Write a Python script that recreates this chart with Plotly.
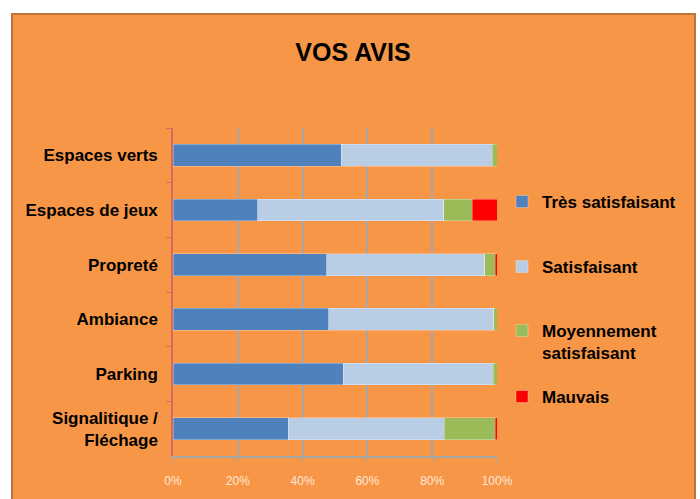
import plotly.graph_objects as go

categories = ["Espaces verts", "Espaces de jeux", "Propreté", "Ambiance", "Parking", "Signalitique /<br>Fléchage"]
tres_satisfaisant = [52.0, 26.1, 47.4, 48.0, 52.6, 35.6]
satisfaisant = [46.5, 57.4, 48.8, 51.0, 46.2, 48.1]
moyennement = [1.5, 8.9, 3.3, 1.0, 1.2, 15.7]
mauvais = [0.0, 7.6, 0.5, 0.0, 0.0, 0.6]
series_names = ["Très satisfaisant", "Satisfaisant", "Moyennement<br>satisfaisant", "Mauvais"]
tick_vals = [0, 20, 40, 60, 80, 100]
tick_text = ["0%", "20%", "40%", "60%", "80%", "100%"]

colors = ["#4F81BD", "#B9CDE5", "#9BBB59", "#FF0000"]
FONT = "Liberation Sans, Arial, sans-serif"

W, H = 700, 499
L, R, T, B = 173, 203, 128, 43
pw, ph = W - L - R, H - T - B

def px_x(px):
    return (px - L) / pw

def px_y(py):
    return (H - B - py) / ph

legend_ids = ["legend", "legend2", "legend3", "legend4"]
legend_tops = [184, 249, 313, 379]

fig = go.Figure()
for name, vals, c, lid in zip(series_names, [tres_satisfaisant, satisfaisant, moyennement, mauvais], colors, legend_ids):
    fig.add_trace(go.Bar(
        y=categories, x=vals, name=name, orientation="h",
        marker=dict(color=c, line=dict(color="rgba(255,255,255,0.6)", width=0.5)),
        legend=lid, showlegend=True,
    ))

legend_style = dict(xanchor="left", yanchor="top",
                    font=dict(family=FONT, size=17, color="black", weight="bold"),
                    bgcolor="rgba(0,0,0,0)", valign="top", itemwidth=30)
layout_legends = {}
for lid, top in zip(legend_ids, legend_tops):
    layout_legends[lid] = dict(x=px_x(502), y=px_y(top), **legend_style)

fig.update_layout(
    width=W, height=H,
    showlegend=True,
    barmode="stack", bargap=0.6,
    paper_bgcolor="white", plot_bgcolor="white",
    margin=dict(l=L, r=R, t=T, b=B, autoexpand=False),
    title=dict(text="<b>VOS AVIS</b>", x=px_x(353), xref="paper", xanchor="center",
               y=(H - 52) / H, yanchor="middle",
               font=dict(family=FONT, size=25, color="black")),
    xaxis=dict(range=[0, 100], tickvals=tick_vals, ticktext=tick_text,
               showgrid=True, gridcolor="#A6A6A6", gridwidth=1.5,
               showline=True, linecolor="#A6A6A6", linewidth=1.5,
               ticks="outside", ticklen=5, tickcolor="#A6A6A6",
               ticklabelstandoff=8,
               tickfont=dict(family=FONT, size=12, color="#FDE9D9"),
               zeroline=False, fixedrange=True),
    yaxis=dict(autorange="reversed", showline=True, linecolor="#D9695F", linewidth=1.5,
               ticks="outside", ticklen=5, tickcolor="#D9695F", tickson="boundaries",
               ticklabelstandoff=10,
               tickfont=dict(family=FONT, size=17, color="black", weight="bold"),
               showgrid=False, fixedrange=True),
    shapes=[dict(type="rect", xref="paper", yref="paper", layer="below",
                 x0=px_x(12), x1=px_x(695), y0=px_y(H + 5), y1=px_y(14),
                 fillcolor="#F79646", line=dict(color="#C0763A", width=2))],
    **layout_legends,
)

fig.write_html("out.html", config={"displayModeBar": False},
               post_script="document.body.style.margin='0';")
